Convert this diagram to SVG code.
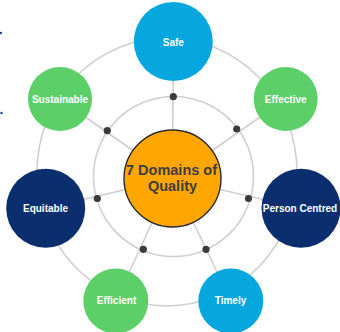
<svg xmlns="http://www.w3.org/2000/svg" width="340" height="332" viewBox="0 0 340 332">
  <style>
    .ring { fill: none; stroke: #cfcfcf; stroke-width: 1.6; }
    .spoke { stroke: #cfcfcf; stroke-width: 1.6; }
    .dot { fill: #3b3b3f; }
    .safe { fill: #06a6de; }
    .green { fill: #5ccf68; }
    .navy { fill: #0b2f6e; }
    .lbl { font-family: "Liberation Sans", Arial, sans-serif; font-weight: bold; font-size: 10px; fill: #ffffff; text-anchor: middle; }
    .hub-text { font-family: "Liberation Sans", Arial, sans-serif; font-weight: bold; font-size: 14.5px; fill: #3d3d47; text-anchor: middle; }
  </style>

  <rect width="340" height="332" fill="#ffffff"/>

  <!-- small marks at the left edge -->
  <circle cx="0.8" cy="33" r="1.2" fill="#1f3f8a"/>
  <circle cx="1.5" cy="113" r="1.2" fill="#1f3f8a"/>

  <!-- rings and spokes -->
  <g id="connectors">
    <ellipse class="ring" cx="167" cy="172" rx="130" ry="134"/>
    <circle class="ring" cx="173.5" cy="176.5" r="80"/>
    <line class="spoke" x1="172.5" y1="178.5" x2="173.3" y2="41.5"/>
    <line class="spoke" x1="172.5" y1="178.5" x2="285.7" y2="99"/>
    <line class="spoke" x1="172.5" y1="178.5" x2="301" y2="208.3"/>
    <line class="spoke" x1="172.5" y1="178.5" x2="230.8" y2="301"/>
    <line class="spoke" x1="172.5" y1="178.5" x2="115.8" y2="301"/>
    <line class="spoke" x1="172.5" y1="178.5" x2="45.7" y2="208.3"/>
    <line class="spoke" x1="172.5" y1="178.5" x2="60" y2="99"/>
    <circle class="dot" cx="173.3" cy="96.7" r="3.6"/>
    <circle class="dot" cx="236.7" cy="129" r="3.6"/>
    <circle class="dot" cx="248.5" cy="198.5" r="3.6"/>
    <circle class="dot" cx="206" cy="249.3" r="3.6"/>
    <circle class="dot" cx="143.3" cy="249.3" r="3.6"/>
    <circle class="dot" cx="97.3" cy="198.5" r="3.6"/>
    <circle class="dot" cx="107.3" cy="130.7" r="3.6"/>
  </g>

  <g id="hub">
    <circle cx="172.5" cy="178.5" r="48.5" fill="#ffa600" stroke="#2a2a2a" stroke-width="1.4"/>
    <text class="hub-text" x="171.5" y="174.5">7 Domains of</text>
    <text class="hub-text" x="172.5" y="191">Quality</text>
  </g>

  <g id="safe">
    <circle class="safe" cx="173.3" cy="41.5" r="39.5"/>
    <text class="lbl" x="173.3" y="45.5" font-size="11">Safe</text>
  </g>

  <g id="effective">
    <circle class="green" cx="285.7" cy="99" r="32"/>
    <text class="lbl" x="285.7" y="102.5">Effective</text>
  </g>

  <g id="person-centred">
    <circle class="navy" cx="301" cy="208.3" r="39.5"/>
    <text class="lbl" x="300" y="211.8">Person Centred</text>
  </g>

  <g id="timely">
    <circle class="safe" cx="230.8" cy="301" r="32.5"/>
    <text class="lbl" x="230.5" y="304">Timely</text>
  </g>

  <g id="efficient">
    <circle class="green" cx="115.8" cy="301" r="32.5"/>
    <text class="lbl" x="116.5" y="304">Efficient</text>
  </g>

  <g id="equitable">
    <circle class="navy" cx="45.7" cy="208.3" r="39.5"/>
    <text class="lbl" x="45.5" y="211.8">Equitable</text>
  </g>

  <g id="sustainable">
    <circle class="green" cx="60" cy="99" r="32"/>
    <text class="lbl" x="60" y="102.5">Sustainable</text>
  </g>
</svg>
